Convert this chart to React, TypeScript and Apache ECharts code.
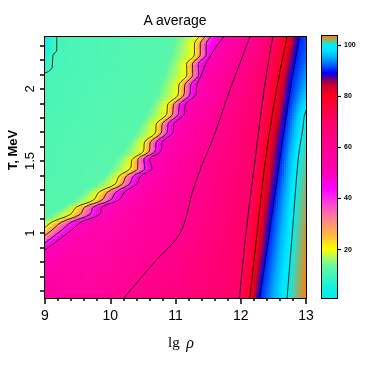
import React, { useEffect, useRef } from "react";
import * as echarts from "echarts";

// ---------------- axis ranges & ticks ----------------
const LG_RHO_MIN = 9;
const LG_RHO_MAX = 13;
const T_MIN = 0.55;
const T_MAX = 2.36;
const A_MIN = 0.8;
const A_MAX = 103.5;

const Y_TICKS = [0.6, 0.7, 0.8, 0.9, 1.0, 1.1, 1.2, 1.3, 1.4, 1.5, 1.6, 1.7, 1.8, 1.9, 2.0, 2.1, 2.2, 2.3];
const Y_TICK_LABELS = [1, 1.5, 2];
const CB_TICK_LABELS = [20, 40, 60, 80, 100];
const CB_MINOR_TICKS = [10, 30, 50, 70, 90];

// ---------------- contour data (lg rho position of each level at given T) ----------------
const L0_T = [0.55, 2.0, 2.11, 2.36];
const L0_X = [5.0, 7.8, 8.6, 8.88];
const L10_T = [0.55, 1.5, 2.0, 2.11, 2.12, 2.15, 2.23, 2.27, 2.36];
const L10_X = [6.0, 7.5, 8.6, 9.0, 9.05, 9.11, 9.12, 9.18, 9.18];
const BAND_T = [0.55, 0.9, 1.02, 1.075, 1.13, 1.18, 1.23, 1.285, 1.34, 1.395, 1.45, 1.51, 1.57, 1.63, 1.695, 1.76, 1.825, 1.89, 1.96, 2.03, 2.1, 2.17, 2.24, 2.31, 2.36];
const L12_X = [7.2, 8.3, 8.7, 8.88, 9.06, 9.25, 9.42, 9.57, 9.74, 9.88, 9.97, 10.07, 10.17, 10.26, 10.35, 10.44, 10.52, 10.6, 10.68, 10.73, 10.78, 10.84, 10.89, 10.93, 10.96];
const L20_X = [7.5, 8.6, 8.955, 9.1, 9.39, 9.48, 9.745, 9.83, 10.075, 10.135, 10.31, 10.335, 10.51, 10.525, 10.69, 10.71, 10.865, 10.88, 11.04, 11.055, 11.175, 11.17, 11.29, 11.29, 11.36];
const L30_X = [7.65, 8.75, 9.105, 9.25, 9.54, 9.61, 9.875, 9.96, 10.185, 10.245, 10.42, 10.425, 10.6, 10.615, 10.78, 10.8, 10.955, 10.97, 11.13, 11.145, 11.265, 11.26, 11.38, 11.38, 11.45];
const L40_X = [7.8, 8.9, 9.255, 9.4, 9.69, 9.74, 10.005, 10.09, 10.295, 10.355, 10.53, 10.515, 10.69, 10.705, 10.87, 10.89, 11.045, 11.06, 11.22, 11.235, 11.355, 11.35, 11.47, 11.47, 11.54];
const L50_X = [7.95, 9.05, 9.405, 9.55, 9.84, 9.87, 10.135, 10.22, 10.405, 10.465, 10.64, 10.605, 10.78, 10.795, 10.96, 10.98, 11.135, 11.15, 11.31, 11.33, 11.4, 11.46, 11.55, 11.65, 11.74];
const L60_T = [0.55, 0.8, 1.0, 1.3, 1.5, 1.65, 2.0, 2.36];
const L60_X = [10.21, 10.68, 11.07, 11.27, 11.43, 11.57, 11.84, 12.14];
const L70_T = [0.55, 1.0, 1.51, 2.0, 2.36];
const L70_X = [11.98, 12.08, 12.22, 12.36, 12.49];
const L80_T = [0.55, 1.0, 1.51, 2.0, 2.36];
const L80_X = [12.14, 12.25, 12.38, 12.55, 12.71];
const L90_T = [0.55, 1.0, 1.51, 2.0, 2.36];
const L90_X = [12.29, 12.44, 12.6, 12.76, 12.9];
const L100_T = [0.55, 1.0, 1.51, 1.72, 1.85, 2.36];
const L100_X = [12.71, 12.79, 12.88, 12.95, 13.0, 13.6];
const LMAX_T = [0.55, 1.0, 1.5, 2.36];
const LMAX_X = [13.0, 13.05, 13.2, 14.0];

const CONTOURS = [
  { level: 0, t: L0_T, x: L0_X, draw: false },
  { level: 10, t: L10_T, x: L10_X, draw: true },
  { level: 12, t: BAND_T, x: L12_X, draw: false },
  { level: 20, t: BAND_T, x: L20_X, draw: true },
  { level: 30, t: BAND_T, x: L30_X, draw: true },
  { level: 40, t: BAND_T, x: L40_X, draw: true },
  { level: 50, t: BAND_T, x: L50_X, draw: true },
  { level: 60, t: L60_T, x: L60_X, draw: true },
  { level: 70, t: L70_T, x: L70_X, draw: true },
  { level: 80, t: L80_T, x: L80_X, draw: true },
  { level: 90, t: L90_T, x: L90_X, draw: true },
  { level: 100, t: L100_T, x: L100_X, draw: true },
  { level: 103.5, t: LMAX_T, x: LMAX_X, draw: false },
];

// ---------------- colour map ----------------
const COLOR_STOPS: [number, number[]][] = [
  [0, [0, 238, 238]],
  [5, [20, 240, 222]],
  [10, [70, 245, 185]],
  [13, [95, 247, 165]],
  [16, [160, 250, 110]],
  [20, [255, 255, 0]],
  [25, [255, 190, 60]],
  [30, [255, 145, 120]],
  [35, [255, 100, 180]],
  [40, [255, 40, 235]],
  [44, [255, 0, 255]],
  [48, [255, 0, 205]],
  [52, [255, 0, 172]],
  [60, [255, 0, 145]],
  [70, [255, 0, 105]],
  [80, [255, 0, 30]],
  [84, [210, 0, 40]],
  [86.5, [120, 0, 110]],
  [89, [0, 0, 255]],
  [92, [0, 90, 255]],
  [95, [0, 175, 255]],
  [98, [0, 230, 255]],
  [100, [0, 240, 245]],
  [103.5, [255, 128, 0]],
];

function colorOf(a: number): string {
  const s = COLOR_STOPS;
  if (!(a > s[0][0])) return `rgb(${s[0][1].join(",")})`;
  for (let i = 1; i < s.length; i++) {
    if (a <= s[i][0]) {
      const f = (a - s[i - 1][0]) / (s[i][0] - s[i - 1][0]);
      const c = s[i - 1][1].map((v, k) => Math.round(v + f * (s[i][1][k] - v)));
      return `rgb(${c.join(",")})`;
    }
  }
  return `rgb(${s[s.length - 1][1].join(",")})`;
}

// cubic Hermite interpolation of a contour position along T (follows the smoothed lines)
function interp(ts: number[], xs: number[], t: number): number {
  const n = ts.length;
  if (t <= ts[0]) return xs[0];
  if (t >= ts[n - 1]) return xs[n - 1];
  let i = 0;
  while (i < n - 2 && t > ts[i + 1]) i++;
  const h = ts[i + 1] - ts[i];
  const slope = (k: number) => {
    if (k === 0) return (xs[1] - xs[0]) / (ts[1] - ts[0]);
    if (k === n - 1) return (xs[n - 1] - xs[n - 2]) / (ts[n - 1] - ts[n - 2]);
    return (xs[k + 1] - xs[k - 1]) / (ts[k + 1] - ts[k - 1]);
  };
  const m0 = slope(i) * 0.8;
  const m1 = slope(i + 1) * 0.8;
  const u = (t - ts[i]) / h;
  const u2 = u * u;
  const u3 = u2 * u;
  return (2 * u3 - 3 * u2 + 1) * xs[i] + (u3 - 2 * u2 + u) * h * m0 + (-2 * u3 + 3 * u2) * xs[i + 1] + (u3 - u2) * h * m1;
}

function buildCells() {
  const NX = 130;
  const NY = 87;
  const dx = (LG_RHO_MAX - LG_RHO_MIN) / NX;
  const dy = (T_MAX - T_MIN) / NY;
  const cells: number[][] = [];
  const lv = CONTOURS.map((c) => c.level);
  for (let j = 0; j < NY; j++) {
    const y0 = T_MIN + j * dy;
    const tc = y0 + dy / 2;
    const pos = CONTOURS.map((c) => interp(c.t, c.x, tc));
    for (let k = 1; k < pos.length; k++) pos[k] = Math.max(pos[k], pos[k - 1] + 1e-6);
    for (let i = 0; i < NX; i++) {
      const x0 = LG_RHO_MIN + i * dx;
      const xc = x0 + dx / 2;
      let a: number;
      if (xc <= pos[0]) a = lv[0];
      else if (xc >= pos[pos.length - 1]) a = lv[lv.length - 1];
      else {
        let k = 0;
        while (k < pos.length - 1 && xc > pos[k + 1]) k++;
        a = lv[k] + ((lv[k + 1] - lv[k]) * (xc - pos[k])) / (pos[k + 1] - pos[k]);
      }
      cells.push([x0, Math.min(LG_RHO_MAX, x0 + dx), y0, Math.min(T_MAX, y0 + dy), a]);
    }
  }
  return cells;
}

const FONT = "Liberation Sans";

export default function App() {
  const ref = useRef<HTMLDivElement>(null);
  useEffect(() => {
    if (!ref.current) return;
    const chart = echarts.init(ref.current, null, { renderer: "svg" });
    const black = "#000";
    const frameLine = () => ({ show: true, onZero: false, lineStyle: { color: black, width: 2 } });
    const noTick = { show: false };
    const noLabel = { show: false };
    const noSplit = { show: false };

    const cells = buildCells();
    const fills = cells.map((c) => colorOf(c[4]));

    const contourSeries = CONTOURS.filter((c) => c.draw).map((c) => ({
      type: "line",
      xAxisIndex: 0,
      yAxisIndex: 0,
      data: c.t.map((t, i) => [c.x[i], t]),
      showSymbol: false,
      symbol: "none",
      smooth: 0.35,
      silent: true,
      clip: true,
      z: 5,
      lineStyle: { color: black, width: 0.8 },
    }));

    const stops = COLOR_STOPS.map(([v]) => ({
      offset: Math.min(1, Math.max(0, (A_MAX - v) / (A_MAX - A_MIN))),
      color: colorOf(v),
    })).sort((p, q) => p.offset - q.offset);

    const option: any = {
      animation: false,
      progressive: 0,
      textStyle: { fontFamily: FONT },
      grid: [
        { left: 45, top: 37, width: 261, height: 261 },
        { left: 322, top: 36, width: 15, height: 262 },
      ],
      xAxis: [
        {
          gridIndex: 0, type: "value", min: LG_RHO_MIN, max: LG_RHO_MAX, interval: 1, position: "bottom",
          axisLine: frameLine(),
          axisTick: { show: true, length: 6, lineStyle: { color: black, width: 1.5 } },
          minorTick: { show: true, splitNumber: 5, length: 3, lineStyle: { color: black, width: 1.5 } },
          axisLabel: { fontSize: 14, color: black, margin: 10, fontFamily: FONT },
          splitLine: noSplit, minorSplitLine: noSplit,
        },
        { gridIndex: 0, type: "value", min: LG_RHO_MIN, max: LG_RHO_MAX, position: "top", axisLine: frameLine(), axisTick: noTick, axisLabel: noLabel, splitLine: noSplit },
        { gridIndex: 1, type: "value", min: 0, max: 1, position: "bottom", axisLine: frameLine(), axisTick: noTick, axisLabel: noLabel, splitLine: noSplit },
        { gridIndex: 1, type: "value", min: 0, max: 1, position: "top", axisLine: frameLine(), axisTick: noTick, axisLabel: noLabel, splitLine: noSplit },
      ],
      yAxis: [
        {
          gridIndex: 0, type: "value", min: T_MIN, max: T_MAX, position: "left",
          axisLine: frameLine(),
          axisTick: { show: true, customValues: Y_TICKS, length: 5, lineStyle: { color: black, width: 1.5 } },
          axisLabel: { customValues: Y_TICK_LABELS, rotate: 90, fontSize: 13, color: black, margin: 9, fontFamily: FONT },
          splitLine: noSplit,
        },
        { gridIndex: 0, type: "value", min: T_MIN, max: T_MAX, position: "right", axisLine: frameLine(), axisTick: noTick, axisLabel: noLabel, splitLine: noSplit },
        { gridIndex: 1, type: "value", min: A_MIN, max: A_MAX, position: "left", axisLine: frameLine(), axisTick: noTick, axisLabel: noLabel, splitLine: noSplit },
        {
          gridIndex: 1, type: "value", min: A_MIN, max: A_MAX, position: "right",
          axisLine: frameLine(),
          axisTick: { show: true, customValues: CB_TICK_LABELS, length: 4, lineStyle: { color: black, width: 1.2 } },
          axisLabel: { customValues: CB_TICK_LABELS, fontSize: 7, fontWeight: "bold", color: black, margin: 7, fontFamily: FONT },
          splitLine: noSplit,
        },
        {
          gridIndex: 1, type: "value", min: A_MIN, max: A_MAX, position: "right",
          axisLine: { show: false },
          axisTick: { show: true, customValues: CB_MINOR_TICKS, length: 2, lineStyle: { color: black, width: 1.2 } },
          axisLabel: noLabel, splitLine: noSplit,
        },
      ],
      graphic: [
        { type: "text", x: 175, y: 20, style: { text: "A average", fontSize: 14, fontFamily: FONT, fill: black, align: "center", verticalAlign: "middle" } },
        { type: "text", x: 12, y: 150, rotation: Math.PI / 2, style: { text: "T, MeV", fontSize: 13, fontWeight: "bold", fontFamily: FONT, fill: black, align: "center", verticalAlign: "middle" } },
        {
          type: "text", x: 181, y: 342,
          style: {
            text: "{a|lg}  {b|ρ}", fill: black, align: "center", verticalAlign: "middle",
            rich: {
              a: { fontFamily: "Liberation Serif", fontSize: 15, fill: black },
              b: { fontFamily: "Liberation Serif", fontStyle: "italic", fontSize: 16, fill: black },
            },
          },
        },
      ],
      series: [
        {
          type: "custom",
          xAxisIndex: 0,
          yAxisIndex: 0,
          data: cells,
          encode: { x: [0, 1], y: [2, 3] },
          clip: true,
          silent: true,
          progressive: 0,
          progressiveThreshold: 1000000,
          z: 1,
          renderItem: (params: any, api: any) => {
            const p0 = api.coord([api.value(0), api.value(3)]);
            const p1 = api.coord([api.value(1), api.value(2)]);
            return {
              type: "rect",
              shape: { x: p0[0], y: p0[1], width: p1[0] - p0[0] + 0.6, height: p1[1] - p0[1] + 0.6 },
              style: { fill: fills[params.dataIndex] },
            };
          },
        },
        ...contourSeries,
        {
          type: "custom",
          xAxisIndex: 2,
          yAxisIndex: 2,
          data: [[0, 1, A_MIN, A_MAX]],
          encode: { x: [0, 1], y: [2, 3] },
          silent: true,
          z: 1,
          renderItem: (params: any, api: any) => {
            const p0 = api.coord([api.value(0), api.value(3)]);
            const p1 = api.coord([api.value(1), api.value(2)]);
            return {
              type: "rect",
              shape: { x: p0[0], y: p0[1], width: p1[0] - p0[0], height: p1[1] - p0[1] },
              style: { fill: new echarts.graphic.LinearGradient(0, 0, 0, 1, stops) },
            };
          },
        },
      ],
    };
    chart.setOption(option);
    return () => chart.dispose();
  }, []);
  return <div ref={ref} style={{ position: "fixed", left: 0, top: 0, width: 374, height: 374 }} />;
}
